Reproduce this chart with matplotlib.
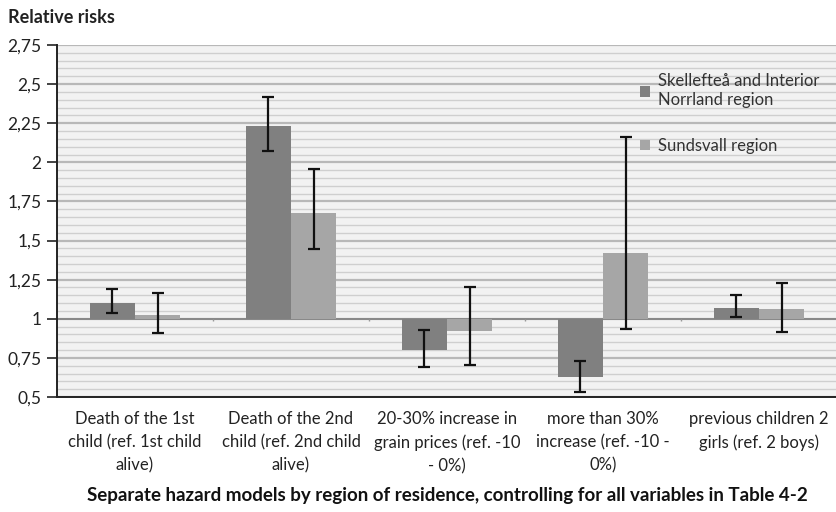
import numpy as np
import matplotlib.pyplot as plt
from matplotlib.ticker import MultipleLocator

categories = [
    'Death of the 1st\nchild (ref. 1st child\nalive)',
    'Death of the 2nd\nchild (ref. 2nd child\nalive)',
    '20-30% increase in\ngrain prices (ref. -10\n- 0%)',
    'more than 30%\nincrease (ref. -10 -\n0%)',
    'previous children 2\ngirls (ref. 2 boys)',
]
series_names = ['Skellefteå and Interior\nNorrland region', 'Sundsvall region']

skel_rr = [1.10, 2.235, 0.80, 0.625, 1.07]
skel_lo = [1.04, 2.07, 0.69, 0.53, 1.01]
skel_hi = [1.19, 2.415, 0.93, 0.73, 1.15]

sund_rr = [1.025, 1.675, 0.925, 1.42, 1.06]
sund_lo = [0.91, 1.445, 0.705, 0.935, 0.915]
sund_hi = [1.165, 1.96, 1.205, 2.16, 1.23]

ytick_vals = [0.5, 0.75, 1, 1.25, 1.5, 1.75, 2, 2.25, 2.5, 2.75]
ytick_labels = ['0,5', '0,75', '1', '1,25', '1,5', '1,75', '2', '2,25', '2,5', '2,75']

plt.rcParams['font.family'] = ['Lato', 'DejaVu Sans']

fig = plt.figure(figsize=(8.37, 5.12), dpi=100)
ax = fig.add_axes([0.068, 0.2246, 0.932, 0.6875])
ax.set_facecolor('#f2f2f2')

x = np.arange(len(categories))
w = 0.29
dark = '#808080'
light = '#a6a6a6'

ax.bar(x - w / 2, np.array(skel_rr) - 1, bottom=1, width=w, color=dark, label=series_names[0], zorder=3)
ax.bar(x + w / 2, np.array(sund_rr) - 1, bottom=1, width=w, color=light, label=series_names[1], zorder=3)

for xs, rr, lo, hi in [(x - w / 2, skel_rr, skel_lo, skel_hi), (x + w / 2, sund_rr, sund_lo, sund_hi)]:
    rr = np.array(rr)
    err = [rr - np.array(lo), np.array(hi) - rr]
    ax.errorbar(xs, rr, yerr=err, fmt='none', ecolor='#111111', elinewidth=1.6, capsize=4, capthick=1.6, zorder=4)

ax.set_xlim(-0.5, len(categories) - 0.5)
ax.set_ylim(0.5, 2.75)
ax.set_yticks(ytick_vals)
ax.set_yticklabels(ytick_labels, fontsize=12.5, color='#222222')
ax.yaxis.set_minor_locator(MultipleLocator(0.05))
ax.grid(axis='y', which='major', color='#b8b8b8', linewidth=1.6, zorder=0)
ax.grid(axis='y', which='minor', color='#cfcfcf', linewidth=1.0, zorder=0)
ax.tick_params(axis='y', which='major', length=7, width=1.2, color='#222222', pad=4)
ax.tick_params(axis='y', which='minor', length=0)

ax.set_xticks(x)
ax.set_xticklabels(categories, fontsize=12, color='#222222', linespacing=1.55)
ax.tick_params(axis='x', length=0, pad=10)

ax.axhline(1, color='#808080', linewidth=1.2, zorder=2)
bounds = np.arange(len(categories) - 1) + 0.5
ax.vlines(bounds, 0.985, 1.0, color='#999999', linewidth=1, zorder=2)

for s in ['top', 'right']:
    ax.spines[s].set_visible(False)
ax.spines['left'].set_color('#222222')
ax.spines['left'].set_linewidth(1.4)
ax.spines['bottom'].set_color('#222222')
ax.spines['bottom'].set_linewidth(1.4)

leg = ax.legend(loc='upper left', bbox_to_anchor=(0.728, 0.962), frameon=False, fontsize=12,
                handlelength=0.6, handleheight=0.6, handletextpad=0.5, labelspacing=1.8,
                labelcolor='#333333')

fig.text(0.01, 0.965, 'Relative risks', fontsize=13, fontweight='bold', color='#222222', va='center')
ax.set_xlabel('Separate hazard models by region of residence, controlling for all variables in Table 4-2',
              fontsize=13.5, fontweight='bold', color='#111111', labelpad=9)

fig.savefig('out.png', dpi=100)
